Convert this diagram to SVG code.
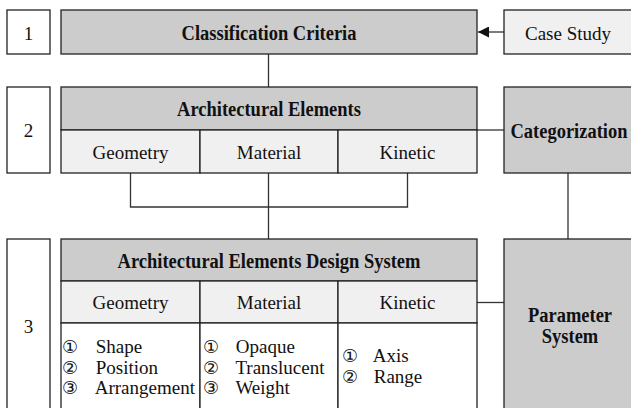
<svg xmlns="http://www.w3.org/2000/svg" width="631" height="408" viewBox="0 0 631 408">
<defs>
<style>
.box{stroke:#222;stroke-width:1.3}
.hd{fill:#cccccc}
.lt{fill:#f0f0f0}
.wh{fill:#ffffff}
.ln{stroke:#333;stroke-width:1.3;fill:none}
.b{font-weight:bold}
.c{text-anchor:middle}
</style>
<marker id="ah" viewBox="0 0 10 10" refX="10" refY="5" markerWidth="11" markerHeight="11" markerUnits="userSpaceOnUse" orient="auto">
<path d="M0,0 L10,5 L0,10 Z" fill="#111"/>
</marker>
</defs>
<rect width="631" height="408" fill="#ffffff"/>

<g id="connectors">
<line class="ln" x1="504" y1="32" x2="478" y2="32" marker-end="url(#ah)"/>
<line class="ln" x1="268.5" y1="54" x2="268.5" y2="87"/>
<line class="ln" x1="477" y1="130" x2="504" y2="130"/>
<polyline class="ln" points="130.5,173 130.5,207 407.5,207 407.5,173"/>
<line class="ln" x1="268.5" y1="173" x2="268.5" y2="239"/>
<line class="ln" x1="568" y1="173" x2="568" y2="239"/>
<line class="ln" x1="477" y1="302.5" x2="504" y2="302.5"/>
</g>

<g font-size="19" fill="#111">
<g id="step1">
<rect class="box wh" x="7" y="10" width="43" height="44"/>
<text font-family="Liberation Serif" class="c" x="28.5" y="39.5">1</text>
</g>
<g id="classification-criteria">
<rect class="box hd" x="61" y="10" width="416" height="44"/>
<text font-family="Liberation Serif" class="b c" transform="translate(269,40) scale(0.88,1)" font-size="21">Classification  Criteria</text>
</g>
<g id="case-study">
<rect class="box lt" x="504" y="10" width="130" height="44"/>
<text font-family="Liberation Serif" class="c" x="568" y="39.5">Case  Study</text>
</g>

<g id="step2">
<rect class="box wh" x="7" y="87" width="43" height="86"/>
<text font-family="Liberation Serif" class="c" x="28.5" y="137">2</text>
</g>
<g id="architectural-elements">
<rect class="box hd" x="61" y="87" width="416" height="43"/>
<text font-family="Liberation Serif" class="b c" transform="translate(269,116) scale(0.88,1)" font-size="21">Architectural  Elements</text>
<rect class="box lt" x="61" y="130" width="139" height="43"/>
<rect class="box lt" x="200" y="130" width="138" height="43"/>
<rect class="box lt" x="338" y="130" width="139" height="43"/>
<text font-family="Liberation Serif" class="c" x="130.5" y="158.5">Geometry</text>
<text font-family="Liberation Serif" class="c" x="269" y="158.5">Material</text>
<text font-family="Liberation Serif" class="c" x="407.5" y="158.5">Kinetic</text>
</g>
<g id="categorization">
<rect class="box hd" x="504" y="87" width="130" height="86"/>
<text font-family="Liberation Serif" class="b c" transform="translate(569,137.5) scale(0.88,1)" font-size="21">Categorization</text>
</g>

<g id="step3">
<rect class="box wh" x="7" y="239" width="43" height="175"/>
<text font-family="Liberation Serif" class="c" x="28.5" y="333">3</text>
</g>
<g id="design-system">
<rect class="box hd" x="61" y="239" width="416" height="42"/>
<text font-family="Liberation Serif" class="b c" transform="translate(269,267.5) scale(0.88,1)" font-size="21">Architectural  Elements  Design  System</text>
<rect class="box lt" x="61" y="281" width="139" height="42"/>
<rect class="box lt" x="200" y="281" width="138" height="42"/>
<rect class="box lt" x="338" y="281" width="139" height="42"/>
<text font-family="Liberation Serif" class="c" x="130.5" y="309">Geometry</text>
<text font-family="Liberation Serif" class="c" x="269" y="309">Material</text>
<text font-family="Liberation Serif" class="c" x="407.5" y="309">Kinetic</text>
<rect class="box wh" x="61" y="323" width="139" height="95"/>
<rect class="box wh" x="200" y="323" width="138" height="95"/>
<rect class="box wh" x="338" y="323" width="139" height="95"/>
<text font-family="Liberation Serif" y="353"><tspan x="62" font-family="DejaVu Sans" font-size="18">①</tspan><tspan x="91"> Shape</tspan></text>
<text font-family="Liberation Serif" y="373.5"><tspan x="62" font-family="DejaVu Sans" font-size="18">②</tspan><tspan x="91"> Position</tspan></text>
<text font-family="Liberation Serif" y="394"><tspan x="62" font-family="DejaVu Sans" font-size="18">③</tspan><tspan x="91"> Arrangement</tspan></text>
<text font-family="Liberation Serif" y="353"><tspan x="203" font-family="DejaVu Sans" font-size="18">①</tspan><tspan x="231"> Opaque</tspan></text>
<text font-family="Liberation Serif" y="373.5"><tspan x="203" font-family="DejaVu Sans" font-size="18">②</tspan><tspan x="231"> Translucent</tspan></text>
<text font-family="Liberation Serif" y="394"><tspan x="203" font-family="DejaVu Sans" font-size="18">③</tspan><tspan x="231"> Weight</tspan></text>
<text font-family="Liberation Serif" y="362"><tspan x="342" font-family="DejaVu Sans" font-size="18">①</tspan><tspan x="369"> Axis</tspan></text>
<text font-family="Liberation Serif" y="383"><tspan x="342" font-family="DejaVu Sans" font-size="18">②</tspan><tspan x="369"> Range</tspan></text>
</g>
<g id="parameter-system">
<rect class="box hd" x="504" y="239" width="130" height="180"/>
<text font-family="Liberation Serif" class="b c" transform="translate(570,322) scale(0.88,1)" font-size="21">Parameter</text>
<text font-family="Liberation Serif" class="b c" transform="translate(570,343) scale(0.88,1)" font-size="21">System</text>
</g>
</g>
</svg>
